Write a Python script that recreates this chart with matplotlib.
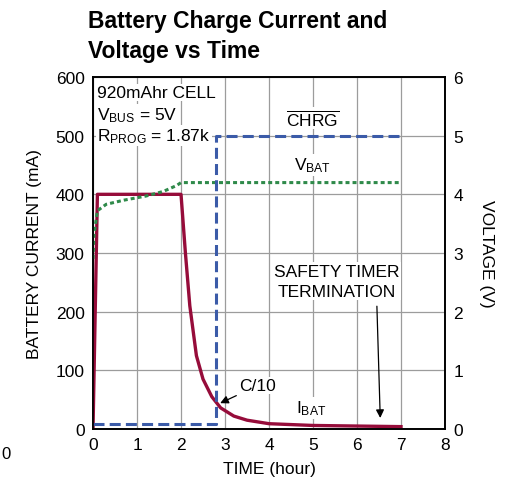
import matplotlib
matplotlib.use("Agg")
import matplotlib.pyplot as plt
import numpy as np

plt.rcParams['font.family'] = ['Liberation Sans', 'DejaVu Sans']
plt.rcParams['mathtext.fontset'] = 'custom'
plt.rcParams['mathtext.rm'] = 'Liberation Sans'
plt.rcParams['mathtext.it'] = 'Liberation Sans'
plt.rcParams['mathtext.bf'] = 'Liberation Sans:bold'

# battery current (mA) vs time (hour)
t_ibat = [0, 0.1, 2.0, 2.1, 2.2, 2.35, 2.5, 2.7, 2.9, 3.2, 3.5, 4.0, 5.0, 6.0, 7.0]
ibat = [0, 400, 400, 300, 210, 125, 85, 55, 36, 22, 15, 9, 6, 5, 4]

# battery voltage (V)
t_vbat = [0, 0.02, 0.1, 0.3, 0.7, 1.2, 1.6, 1.9, 2.0, 7.0]
vbat = [2.9, 3.3, 3.72, 3.83, 3.9, 3.97, 4.05, 4.15, 4.2, 4.2]

# CHRG pin (V)
t_chrg = [0, 2.8, 2.8, 7.0]
chrg = [0.08, 0.08, 5.0, 5.0]

red = '#960c3a'
blue = '#3b5ba8'
green = '#2f8a4a'

fig = plt.figure(figsize=(5.15, 4.89), dpi=100)
ax = fig.add_axes([0.1806, 0.1207, 0.6835, 0.7198])
ax2 = ax.twinx()

ax.plot(t_ibat, ibat, color=red, lw=2.4, zorder=5)
ax2.plot(t_vbat, vbat, color=green, lw=2.2, dashes=(1.3, 1.0))
ax2.plot(t_chrg, chrg, color=blue, lw=2.2, dashes=(3.6, 1.7))

ax.set_xlim(0, 8)
ax.set_ylim(0, 600)
ax2.set_ylim(0, 6)
ax.set_xticks(range(0, 9))
ax.set_yticks(range(0, 601, 100))
ax2.set_yticks(range(0, 7))
ax.grid(True, color='#9c9c9c', lw=0.9)
ax.set_axisbelow(True)
for a in (ax, ax2):
    a.tick_params(length=0, labelsize=12.5, pad=6)
    for s in a.spines.values():
        s.set_linewidth(1.2)
        s.set_color('black')

ax.set_xlabel('TIME (hour)', fontsize=12.5, labelpad=6)
ax.set_ylabel('BATTERY CURRENT (mA)', fontsize=12.5, labelpad=10)
ax2.set_ylabel('VOLTAGE (V)', fontsize=12.5, rotation=-90, labelpad=22)

fig.text(0.171, 0.979, 'Battery Charge Current and\nVoltage vs Time', fontsize=16.5,
         fontweight='bold', ha='left', va='top', linespacing=1.38)

box = dict(facecolor='white', edgecolor='none', pad=1)
ax.text(0.09, 566, '920mAhr CELL', fontsize=12.5, va='baseline', bbox=box)
ax.text(0.09, 528, r'V$_{\mathrm{BUS}}$ = 5V', fontsize=12.5, va='baseline', bbox=box)
ax.text(0.09, 492, r'R$_{\mathrm{PROG}}$ = 1.87k', fontsize=12.5, va='baseline', bbox=box)

ax2.text(5.0, 5.3, r'$\overline{\mathrm{CHRG}}$', fontsize=12.5, ha='center', va='center', bbox=box)
ax2.text(5.0, 4.5, r'V$_{\mathrm{BAT}}$', fontsize=12.5, ha='center', va='center', bbox=box)

ax.text(4.95, 36, r'I$_{\mathrm{BAT}}$', fontsize=12.5, ha='center', va='center', bbox=box)
ax.text(5.55, 252, 'SAFETY TIMER\nTERMINATION', fontsize=12.5, ha='center', va='center',
        linespacing=1.4, bbox=box)
ax.annotate('', xy=(6.53, 14), xytext=(6.45, 214),
            arrowprops=dict(arrowstyle='-|>', color='black', lw=0.9, mutation_scale=12))
ax.annotate('C/10', xy=(2.89, 44), xytext=(3.33, 74), fontsize=12.5, va='center',
            bbox=box,
            arrowprops=dict(arrowstyle='-|>', color='black', lw=0.9, mutation_scale=12,
                            shrinkA=2, shrinkB=0))

fig.text(0.002, 0.07, '0', fontsize=12, ha='left', va='center')

fig.savefig('out.png', dpi=100)
